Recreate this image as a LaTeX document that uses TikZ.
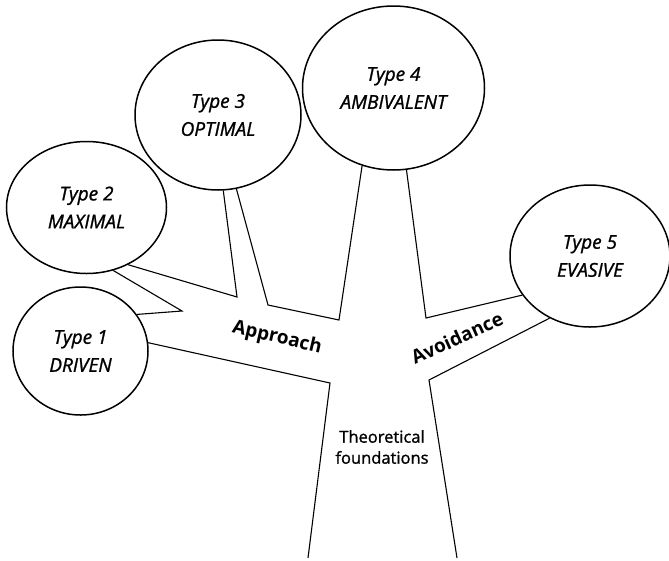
\documentclass[tikz,border=0pt]{standalone}
\usepackage{fontspec}
\setmainfont{Open Sans}
\newfontfamily\semifont{Open Sans}[FakeBold=1.2]
\usetikzlibrary{shapes.geometric}
\begin{document}
\begin{tikzpicture}[x=1pt,y=-1pt,
    kind/.style={draw,ellipse,line width=1.5pt,inner sep=0pt,align=center,
      font=\fontsize{19}{28}\selectfont\semifont\itshape},
    limb/.style={line width=1.1pt,line join=miter}]
  \useasboundingbox (0,0) rectangle (669,560);
  \node[kind,minimum width=135pt,minimum height=128pt] (t1) at (80.5,351) {Type 1\\DRIVEN};
  \node[kind,minimum width=160pt,minimum height=132pt] (t2) at (86.5,207.5) {Type 2\\MAXIMAL};
  \node[kind,minimum width=166pt,minimum height=150pt] (t3) at (218,115) {Type 3\\OPTIMAL};
  \node[kind,minimum width=182pt,minimum height=164pt] (t4) at (393.5,88) {Type 4\\AMBIVALENT};
  \node[kind,minimum width=160pt,minimum height=142pt] (t5) at (590,256) {Type 5\\EVASIVE};
  % junctions of the tree
  \coordinate (j1) at (237,297);
  \coordinate (j2) at (268,305);
  \coordinate (j3) at (339,320);
  \coordinate (j4) at (426,318);
  \coordinate (j5) at (429,380);
  \coordinate (j6) at (330,383);
  \coordinate (j7) at (182,311);
  \coordinate (b1) at (308,558);
  \coordinate (b2) at (457,558);
  \draw[limb] (t2.-54) -- (j1) -- (t3.-86);
  \draw[limb] (t3.-76) -- (j2) -- (j3) -- (t4.248);
  \draw[limb] (t4.-81) -- (j4) -- (t5.210);
  \draw[limb] (t5.237) -- (j5) -- (b2);
  \draw[limb] (b1) -- (j6) -- (t1.7);
  \draw[limb] (t1.33) -- (j7) -- (t2.-67);
  \node[font=\fontsize{19}{22}\selectfont\bfseries,rotate=-13] (appr) at (277,338) {Approach};
  \node[font=\fontsize{19}{22}\selectfont\bfseries,rotate=24.5] (avoid) at (457,338) {Avoidance};
  \node[align=center,font=\fontsize{16.5}{21}\selectfont\semifont] (theo) at (382,447) {Theoretical\\foundations};
\end{tikzpicture}
\end{document}
